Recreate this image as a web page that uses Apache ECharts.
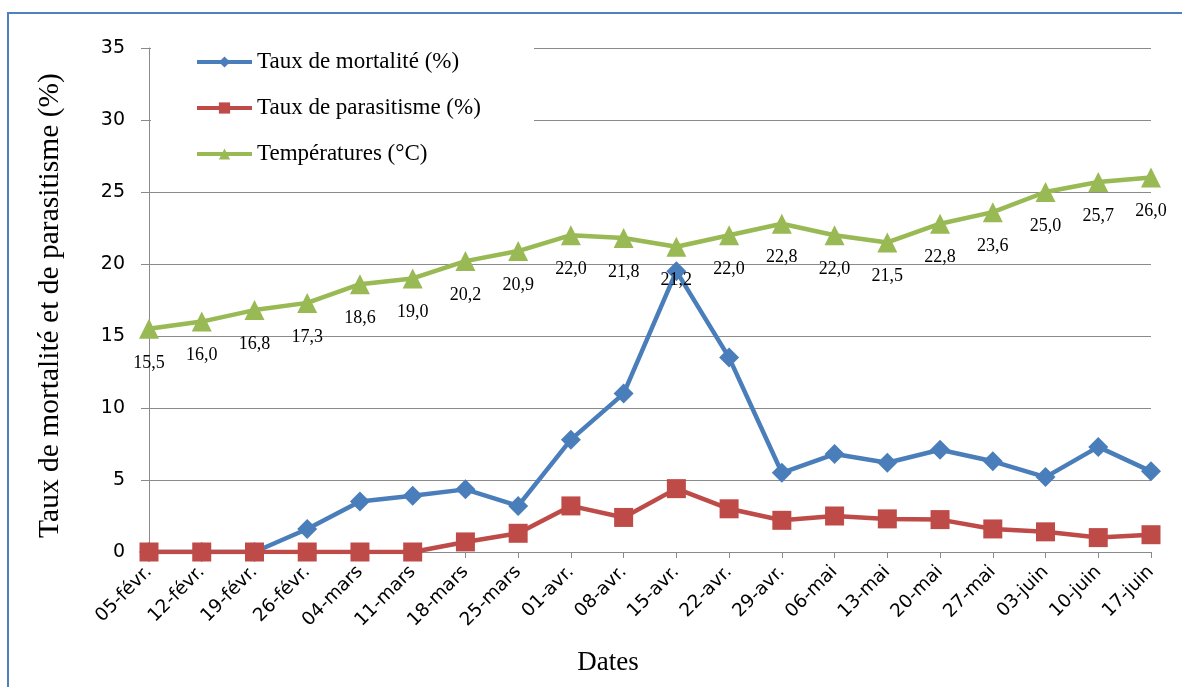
<!DOCTYPE html>
<html>
<head>
<meta charset="utf-8">
<script src="https://cdn.jsdelivr.net/npm/echarts@6/dist/echarts.min.js"></script>
<style>
html,body{margin:0;padding:0;background:#fff;}
#chart{width:1182px;height:687px;}
</style>
</head>
<body>
<div id="chart"></div>
<script>
const dates = ['05-févr.','12-févr.','19-févr.','26-févr.','04-mars','11-mars','18-mars','25-mars','01-avr.','08-avr.','15-avr.','22-avr.','29-avr.','06-mai','13-mai','20-mai','27-mai','03-juin','10-juin','17-juin'];
const mortalite = [0, 0, 0, 1.6, 3.5, 3.9, 4.35, 3.2, 7.8, 11.0, 19.5, 13.5, 5.5, 6.8, 6.2, 7.1, 6.3, 5.2, 7.3, 5.6];
const parasitisme = [0, 0, 0, 0, 0, 0, 0.7, 1.3, 3.2, 2.4, 4.4, 3.0, 2.2, 2.5, 2.3, 2.25, 1.6, 1.4, 1.0, 1.2];
const temperatures = [15.5, 16.0, 16.8, 17.3, 18.6, 19.0, 20.2, 20.9, 22.0, 21.8, 21.2, 22.0, 22.8, 22.0, 21.5, 22.8, 23.6, 25.0, 25.7, 26.0];
const yTicks = { min: 0, max: 35, interval: 5 };
const seriesNames = ['Taux de mortalité (%)', 'Taux de parasitisme (%)', 'Températures (°C)'];

const chart = echarts.init(document.getElementById('chart'), null, { renderer: 'canvas' });
const serif = '"Liberation Serif", "Times New Roman", serif';
const sans = '"DejaVu Sans", sans-serif';
const gridColor = '#8a8a8a';

chart.setOption({
  animation: false,
  backgroundColor: '#ffffff',
  grid: { left: 149, right: 31, top: 48, bottom: 135, containLabel: false, outerBoundsMode: 'none' },
  graphic: {
    elements: [
      { type: 'rect', z: 1, silent: true, shape: { x: 151, y: 34, width: 383, height: 148 }, style: { fill: '#ffffff' } },
      { type: 'rect', z: 0, silent: true, shape: { x: 8, y: 13, width: 1300, height: 800 }, style: { fill: null, stroke: '#4F81BD', lineWidth: 2 } }
    ]
  },
  legend: {
    orient: 'vertical',
    left: 195,
    top: 50,
    padding: 0,
    itemWidth: 55,
    itemHeight: 14,
    itemGap: 22,
    lineStyle: { width: 4 },
    textStyle: { fontFamily: serif, fontSize: 23, color: '#000', lineHeight: 24 },
    data: seriesNames
  },
  xAxis: {
    type: 'category',
    data: dates,
    boundaryGap: false,
    name: 'Dates',
    nameLocation: 'middle',
    nameGap: 97,
    nameTextStyle: { fontFamily: serif, fontSize: 27, color: '#000', padding: [0, 84, 0, 0] },
    axisLine: { lineStyle: { color: gridColor, width: 1 } },
    axisTick: { show: true, alignWithLabel: true, interval: 0, length: 6, lineStyle: { color: gridColor } },
    axisLabel: { rotate: 45, interval: 0, margin: 17, fontFamily: sans, fontSize: 18.5, color: '#000' },
    splitLine: { show: false }
  },
  yAxis: {
    type: 'value',
    min: yTicks.min,
    max: yTicks.max,
    interval: yTicks.interval,
    name: 'Taux de mortalité et de parasitisme (%)',
    nameLocation: 'middle',
    nameGap: 84,
    nameTextStyle: { fontFamily: serif, fontSize: 29.5, color: '#000', padding: [0, 11, 0, 0] },
    axisLine: { show: true, lineStyle: { color: gridColor, width: 1 } },
    axisTick: { show: true, length: 8, lineStyle: { color: gridColor } },
    axisLabel: { margin: 24, fontFamily: sans, fontSize: 19, color: '#000' },
    splitLine: { show: true, lineStyle: { color: gridColor, width: 1 } }
  },
  series: [
    {
      name: seriesNames[0], type: 'line', data: mortalite,
      symbol: 'diamond', symbolSize: 20,
      lineStyle: { color: '#4A7EBB', width: 4.5 },
      itemStyle: { color: '#4A7EBB' }
    },
    {
      name: seriesNames[1], type: 'line', data: parasitisme,
      symbol: 'rect', symbolSize: 19,
      lineStyle: { color: '#BE4B48', width: 4.5 },
      itemStyle: { color: '#BE4B48' }
    },
    {
      name: seriesNames[2], type: 'line', data: temperatures,
      symbol: 'triangle', symbolSize: 20,
      lineStyle: { color: '#98B954', width: 4.5 },
      itemStyle: { color: '#98B954' },
      label: {
        show: true, position: 'bottom', distance: 15,
        fontFamily: serif, fontSize: 18, color: '#000',
        formatter: p => p.value.toFixed(1).replace('.', ',')
      }
    }
  ]
});
</script>
</body>
</html>
